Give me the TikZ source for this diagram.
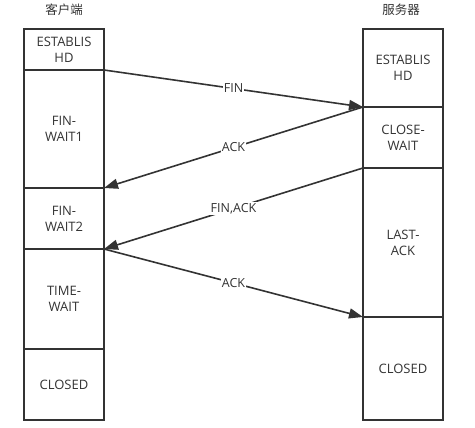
\documentclass[tikz,border=0pt]{standalone}
\usepackage{fontspec}
\setmainfont{Open Sans}
\newfontfamily\cjk{Noto Sans CJK SC}
\usetikzlibrary{positioning, arrows.meta}
\definecolor{ink}{HTML}{333333}
\tikzstyle{state} = [rectangle, minimum width=80pt, text width=78pt, align=center, draw=ink, line width=1.8pt, inner sep=0pt, outer sep=0pt, text=ink, font=\fontsize{13}{16}\selectfont]
\tikzstyle{title} = [text=ink, font=\cjk\fontsize{12.5}{14}\selectfont]
\tikzstyle{arrow} = [line width=1.6pt, draw=ink, -{Triangle[length=14pt,width=10pt]}]
\tikzstyle{msg} = [midway, fill=white, inner sep=1pt, text=ink, font=\fontsize{12.5}{14}\selectfont]

\begin{document}
\begin{tikzpicture}[x=1pt, y=-1pt, node distance=0pt]
        \useasboundingbox (0,0) rectangle (475,428);
        \node (ctitle) [title] at (64,10) {客户端};
        \node (stitle) [title] at (401,10) {服务器};

        % client side
        \node (cest) [state, minimum height=41pt, anchor=north west] at (24,29) {ESTABLIS\\HD};
        \node (cfw1) [state, minimum height=118pt, below=of cest] {FIN-\\WAIT1};
        \node (cfw2) [state, minimum height=61pt, below=of cfw1] {FIN-\\WAIT2};
        \node (ctw) [state, minimum height=100pt, below=of cfw2] {TIME-\\WAIT};
        \node (ccl) [state, minimum height=71pt, below=of ctw] {CLOSED};

        % server side
        \node (sest) [state, minimum height=78pt, anchor=north west] at (363,29) {ESTABLIS\\HD};
        \node (scw) [state, minimum height=61pt, below=of sest] {CLOSE-\\WAIT};
        \node (sla) [state, minimum height=149pt, below=of scw] {LAST-\\ACK};
        \node (scl) [state, minimum height=103pt, below=of sla] {CLOSED};

        \draw [arrow] (cest.south east) -- (sest.south west) node [msg] {FIN};
        \draw [arrow] (sest.south west) -- (cfw1.south east) node [msg] {ACK};
        \draw [arrow] (scw.south west) -- (cfw2.south east) node [msg] {FIN,ACK};
        \draw [arrow] (cfw2.south east) -- (sla.south west) node [msg] {ACK};
    \end{tikzpicture}
\end{document}
